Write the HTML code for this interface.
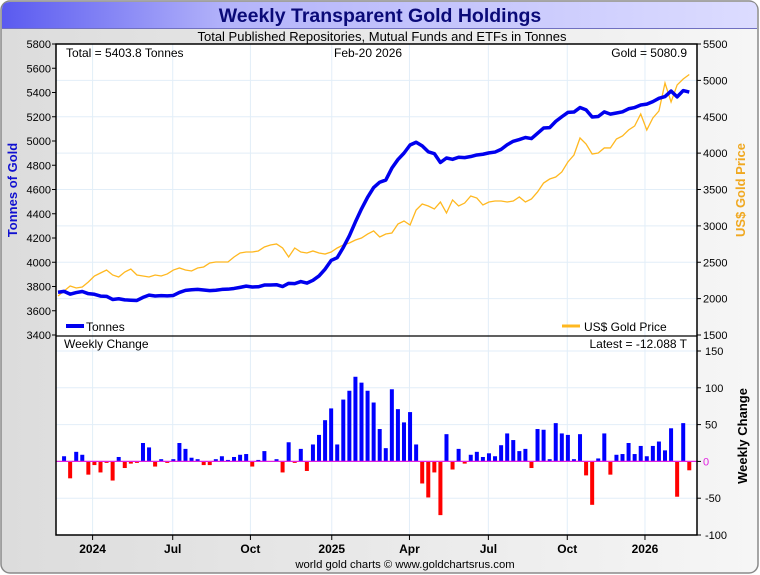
<!DOCTYPE html>
<html><head><meta charset="utf-8"><style>
html,body{margin:0;padding:0;background:#fff;}
svg{display:block;font-family:"Liberation Sans",Arial,sans-serif;}
</style></head><body>
<svg id="chart" width="760" height="575" viewBox="0 0 760 575" xmlns="http://www.w3.org/2000/svg">
<defs>
<linearGradient id="bg" x1="0" x2="1" y1="0" y2="0"><stop offset="0" stop-color="#dcdcdc"/><stop offset="1" stop-color="#f6f6f6"/></linearGradient>
<linearGradient id="tb" x1="0" x2="1" y1="0" y2="0"><stop offset="0" stop-color="#5a5af0"/><stop offset="0.3" stop-color="#b4b4fa"/><stop offset="1" stop-color="#dcdcff"/></linearGradient>
</defs>
<rect x="1" y="1" width="757" height="572" rx="9" fill="url(#bg)" stroke="#8a8a8a" stroke-width="1.5"/>
<path d="M2,28 L2,10 Q2,2 10,2 L750,2 Q757,2 757,10 L757,28 Z" fill="url(#tb)"/>
<line x1="2" y1="28.5" x2="757" y2="28.5" stroke="#7070c0" stroke-width="1"/>
<text x="380" y="22" text-anchor="middle" font-size="19.5" font-weight="bold" fill="#0a0a78">Weekly Transparent Gold Holdings</text>
<text x="382" y="41" text-anchor="middle" font-size="13" fill="#000">Total Published Repositories, Mutual Funds and ETFs in Tonnes</text>
<rect x="56" y="44" width="641" height="491" fill="#fff"/>
<g id="grid"></g>
<g id="bars"></g>
<g id="lines"></g>
<g id="axes"></g>
<text x="66" y="57" font-size="12">Total = 5403.8 Tonnes</text>
<text x="334" y="57" font-size="12">Feb-20  2026</text>
<text x="687" y="57" text-anchor="end" font-size="12">Gold = 5080.9</text>
<line x1="66" y1="326" x2="84" y2="326" stroke="#0000ee" stroke-width="4"/>
<text x="86" y="331" font-size="12">Tonnes</text>
<line x1="562" y1="326" x2="580" y2="326" stroke="#ffb820" stroke-width="3"/>
<text x="584" y="331" font-size="12">US$ Gold Price</text>
<text x="64" y="348" font-size="12">Weekly Change</text>
<text x="687" y="348" text-anchor="end" font-size="12">Latest = -12.088 T</text>
<text transform="translate(17,190) rotate(-90)" text-anchor="middle" font-size="13" font-weight="bold" fill="#1010d0">Tonnes of Gold</text>
<text transform="translate(745,190) rotate(-90)" text-anchor="middle" font-size="13" font-weight="bold" fill="#f0a820">US$ Gold Price</text>
<text transform="translate(747,436) rotate(-90)" text-anchor="middle" font-size="13" font-weight="bold" fill="#000">Weekly Change</text>
<text x="405" y="568" text-anchor="middle" font-size="11.3">world gold charts © www.goldchartsrus.com</text>
</svg>
<script>
const changes = [7,-23,13,9,-18,-5,-15,-2,-26,6,-9,-3,-2,25,19,-7,3,-2,3,25,17,5,3,-5,-5,3,7,2,6,9,10,-7,2,14,0,3,-15,26,-2,17,-13,23,36,56,72,23,84,96,115,107,96,80,
44,18,98,71,53,67,23,-30,-49,-15,-73,37,-11,17,-3,9,13,6,11,7,22,38,29,14,17,-9,44,43,3,52,38,36,3,37,-19,-59,4,38,-18,9,10,25,10,21,7,21,27,15,45,-48,52,-12.088];
const goldPrice = [2036,2105,2174,2146,2160,2229,2311,2352,2393,2325,2297,2366,2407,2325,2311,2297,2325,2311,2339,2393,2421,2393,2380,2421,2435,2490,2503,2503,2503,2572,2627,2641,2641,2655,2710,2737,2751,2696,2572,2696,2641,2627,2655,2627,2613,2641,2696,2737,2765,2806,2833,2888,2930,2847,2888,
2902,3026,3067,3012,3218,3301,3273,3232,3328,3177,3356,3273,3314,3411,3383,3287,3328,3342,3342,3328,3342,3397,3328,3370,3466,3589,3644,3672,3741,3878,3974,4208,4125,3988,4002,4071,4071,4194,4236,4318,4373,4538,4318,4483,4579,4964,4703,4937,5019,5080.9];
const finalTonnes = 5403.8;
const tonneTicks = [3400,3600,3800,4000,4200,4400,4600,4800,5000,5200,5400,5600,5800];
const priceTicks = [1500,2000,2500,3000,3500,4000,4500,5000,5500];
const changeTicks = [-100,-50,0,50,100,150];
const xLabels = ["2024","Jul","Oct","2025","Apr","Jul","Oct","2026"];
const xLabelWeek = [5.7,18.9,31.7,45.1,57.9,70.9,83.9,96.7];

const NS="http://www.w3.org/2000/svg";
const X0=58, DX=6.07;
const xw = i => X0 + i*DX;
const yT = v => 335 - (v-3400)*(291/2400);
const yP = v => 335 - (v-1500)*(291/4000);
const yC = v => 461.4 - v*0.736;
function mk(tag, parent, attrs){const e=document.createElementNS(NS,tag);for(const k in attrs)e.setAttribute(k,attrs[k]);document.getElementById(parent).appendChild(e);return e;}

priceTicks.forEach(v=>{ if(v>1500&&v<5500){const l=mk('line','grid',{x1:56,x2:697,y1:yP(v),y2:yP(v),stroke:'#e2eef8','stroke-width':1});

}});
changeTicks.forEach(v=>{ if(v!==0){const l=mk('line','grid',{x1:56,x2:697,y1:yC(v),y2:yC(v),stroke:'#e2eef8','stroke-width':1});

}});
xLabelWeek.forEach((w,i)=>{const x=xw(w);
const l=mk('line','grid',{x1:x,x2:x,y1:44,y2:535,stroke:'#e2eef8','stroke-width':1});


const t=mk('text','axes',{x:x,y:553,'text-anchor':'middle','font-size':12,'font-weight':'bold'});t.textContent=xLabels[i];


const tk=mk('line','axes',{x1:x,x2:x,y1:535,y2:540,stroke:'#000'});

});

changes.forEach((c,k)=>{const i=k+1;const y0=yC(0),y1=yC(c);
const r=mk('rect','bars',{x:xw(i)-2,y:Math.min(y0,y1),width:4,height:Math.max(0.5,Math.abs(y1-y0)),fill:c>=0?'#0000ff':'#ff0000'});

});
const zl=mk('line','bars',{x1:56,x2:697,y1:yC(0),y2:yC(0),stroke:'#e020e0','stroke-width':1.2});



const total=changes.reduce((a,b)=>a+b,0);
let cur=finalTonnes-total; const tonnes=[cur];
changes.forEach(c=>{cur+=c;tonnes.push(cur);});
const gp=mk('polyline','lines',{points:goldPrice.map((v,i)=>xw(i)+','+yP(v)).join(' '),fill:'none',stroke:'#ffb820','stroke-width':1.3});


const tl=mk('polyline','lines',{points:tonnes.map((v,i)=>xw(i)+','+yT(v)).join(' '),fill:'none',stroke:'#0000ee','stroke-width':3.5,'stroke-linejoin':'round'});



const frame=mk('rect','axes',{x:56,y:44,width:641,height:491,fill:'none',stroke:'#000','stroke-width':1.5});


const div=mk('line','axes',{x1:56,x2:697,y1:336,y2:336,stroke:'#000','stroke-width':1.2});


tonneTicks.forEach(v=>{const y=yT(v);
const tk=mk('line','axes',{x1:52,x2:56,y1:y,y2:y,stroke:'#000'});


const t=mk('text','axes',{x:51,y:y+4,'text-anchor':'end','font-size':11});t.textContent=v;

});
priceTicks.forEach(v=>{const y=yP(v);
const tk=mk('line','axes',{x1:697,x2:701,y1:y,y2:y,stroke:'#000'});


const t=mk('text','axes',{x:703,y:y+4,'font-size':11});t.textContent=v;

});
changeTicks.forEach(v=>{const y=yC(v);
const tk=mk('line','axes',{x1:697,x2:701,y1:y,y2:y,stroke:'#000'});


const t=mk('text','axes',{x:v===0?703:705,y:y+4,'font-size':11,fill:v===0?'#e020e0':'#000'});t.textContent=v;

});
</script>
</body></html>
